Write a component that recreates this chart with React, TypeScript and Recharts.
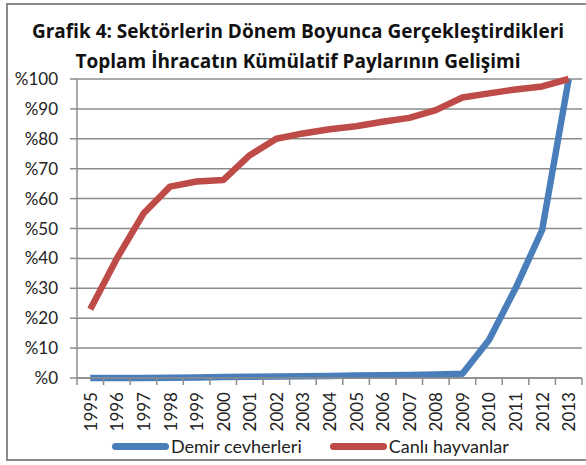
import React from "react";
import { LineChart, Line, XAxis, YAxis, CartesianGrid } from "recharts";

const years = [
  "1995", "1996", "1997", "1998", "1999", "2000", "2001", "2002", "2003", "2004",
  "2005", "2006", "2007", "2008", "2009", "2010", "2011", "2012", "2013",
];

// Demir cevherleri (kümülatif pay, %)
const demir = [0, 0, 0, 0.1, 0.2, 0.3, 0.4, 0.5, 0.6, 0.7, 0.8, 0.9, 1.0, 1.2, 1.4, 12.7, 30, 49.5, 100];

// Canlı hayvanlar (kümülatif pay, %)
const canli = [23, 40, 55, 64, 65.7, 66.2, 74.5, 80, 81.8, 83.2, 84.2, 85.7, 87, 89.6, 93.8, 95.2, 96.5, 97.5, 100];

const yTicks = [0, 10, 20, 30, 40, 50, 60, 70, 80, 90, 100];

const data = years.map((y, i) => ({ i, year: y, demir: demir[i], canli: canli[i] }));

const BLUE = "#4a7ebb";
const RED = "#be4b48";
const GRID = "#8c8c8c";
const FONT = "Lato, 'Open Sans', sans-serif";

const W = 586;
const H = 465;
const PLOT_LEFT = 77;
const PLOT_RIGHT = 4;
const HALF_STEP = (W - PLOT_LEFT - PLOT_RIGHT) / years.length / 2;

const YearTick = (props: any) => {
  const { x, y, payload, index } = props;
  const ty = y + 14;
  return (
    <g>
      <line x1={x - HALF_STEP} x2={x - HALF_STEP} y1={y} y2={y + 7} stroke={GRID} strokeWidth={1.5} />
      {index === years.length - 1 && (
        <line x1={x + HALF_STEP} x2={x + HALF_STEP} y1={y} y2={y + 7} stroke={GRID} strokeWidth={1.5} />
      )}
      <text
        x={x}
        y={ty}
        transform={`rotate(-90, ${x}, ${ty})`}
        textAnchor="end"
        dominantBaseline="central"
        fontSize={17}
        fontFamily={FONT}
        fill="#222"
      >
        {years[payload.value]}
      </text>
    </g>
  );
};

export default function App() {
  return (
    <div
      style={{
        position: "absolute",
        left: 0,
        top: 0,
        width: W,
        height: H,
        overflow: "hidden",
        background: "#fff",
        fontFamily: FONT,
      }}
    >
      {/* outer frame */}
      <div
        style={{
          position: "absolute",
          left: 6,
          top: 3,
          width: 620,
          height: 454,
          border: "2px solid #8a8a8a",
        }}
      />

      {/* title */}
      <div
        style={{
          position: "absolute",
          left: 0,
          top: 16,
          width: W,
          paddingLeft: 10,
          boxSizing: "border-box",
          textAlign: "center",
          fontFamily: "'Open Sans', Lato, sans-serif",
          fontWeight: 700,
          fontSize: 19,
          lineHeight: "30px",
          color: "#111",
          whiteSpace: "nowrap",
        }}
      >
        Grafik 4: Sektörlerin Dönem Boyunca Gerçekleştirdikleri
        <br />
        Toplam İhracatın Kümülatif Paylarının Gelişimi
      </div>

      <div style={{ position: "absolute", left: 0, top: 0 }}>
        <LineChart
          width={W}
          height={H}
          data={data}
          margin={{ top: 79, right: PLOT_RIGHT, bottom: 32, left: 0 }}
        >
          <CartesianGrid vertical={false} stroke={GRID} strokeWidth={1.5} />
          <XAxis
            dataKey="i"
            type="number"
            domain={[-0.5, years.length - 0.5]}
            ticks={data.map((d) => d.i)}
            interval={0}
            height={55}
            tickLine={false}
            tickSize={0}
            tickMargin={0}
            axisLine={{ stroke: GRID, strokeWidth: 1.5 }}
            tick={<YearTick />}
          />
          <YAxis
            width={PLOT_LEFT}
            domain={[0, 100]}
            ticks={yTicks}
            interval={0}
            tickFormatter={(v: number) => `%${v}`}
            axisLine={{ stroke: GRID, strokeWidth: 1.5 }}
            tickLine={{ stroke: GRID, strokeWidth: 1.5 }}
            tickSize={7}
            tickMargin={12}
            tick={{ fontSize: 17, fontFamily: FONT, fill: "#222" }}
          />
          <Line
            dataKey="demir"
            stroke={BLUE}
            strokeWidth={6.5}
            strokeLinejoin="round"
            dot={false}
            isAnimationActive={false}
          />
          <Line
            dataKey="canli"
            stroke={RED}
            strokeWidth={6.5}
            strokeLinejoin="round"
            dot={false}
            isAnimationActive={false}
          />
        </LineChart>
      </div>

      {/* legend */}
      <div
        style={{
          position: "absolute",
          left: 112,
          top: 435,
          display: "flex",
          alignItems: "center",
          fontSize: 18,
          color: "#222",
          lineHeight: "22px",
        }}
      >
        <span style={{ display: "inline-block", width: 57, height: 7, borderRadius: 4, background: BLUE }} />
        <span style={{ marginLeft: 2 }}>Demir cevherleri</span>
        <span style={{ display: "inline-block", width: 57, height: 7, borderRadius: 4, background: RED, marginLeft: 28 }} />
        <span style={{ marginLeft: 2 }}>Canlı hayvanlar</span>
      </div>
    </div>
  );
}
